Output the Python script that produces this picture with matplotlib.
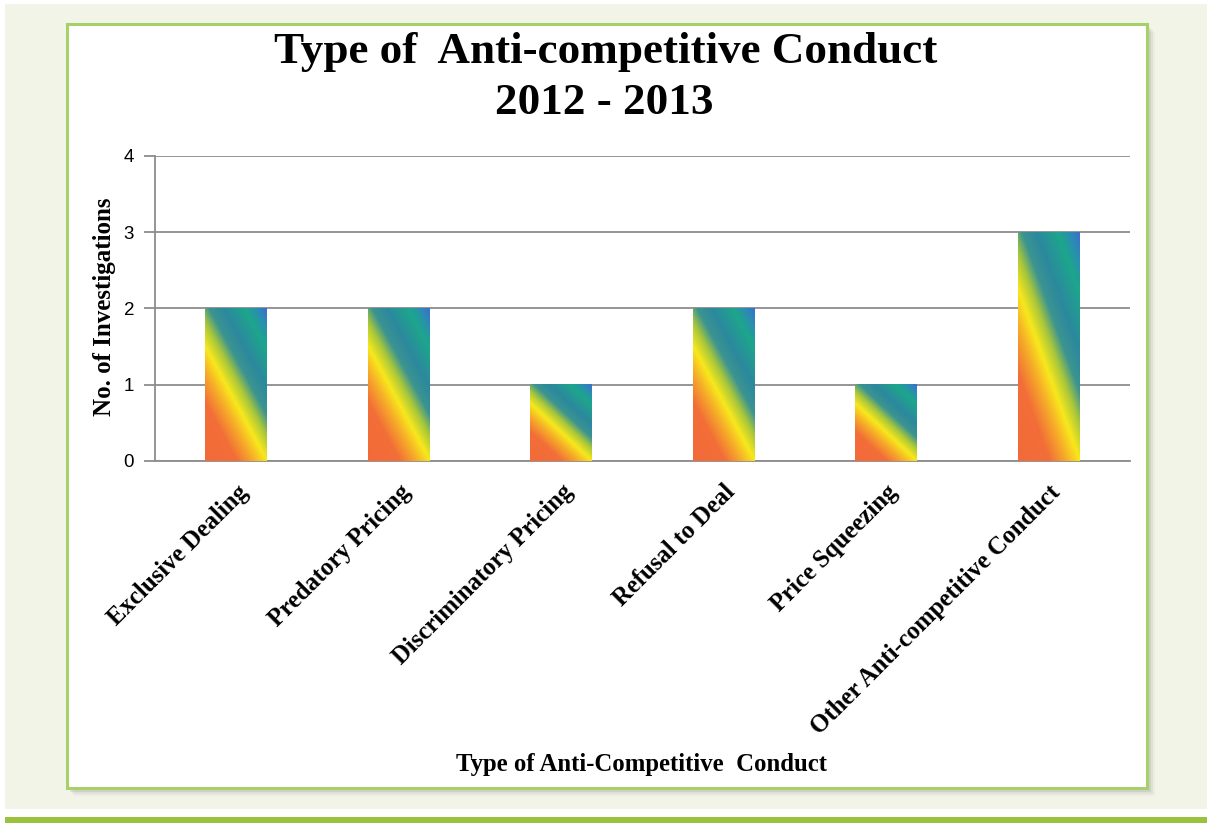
import numpy as np
import matplotlib
matplotlib.use("Agg")
import matplotlib.pyplot as plt
import matplotlib.transforms as mtransforms
from matplotlib.colors import LinearSegmentedColormap
from matplotlib.patches import Rectangle

categories = ["Exclusive Dealing", "Predatory Pricing", "Discriminatory Pricing",
              "Refusal to Deal", "Price Squeezing", "Other Anti-competitive Conduct"]
values = [2, 2, 1, 2, 1, 3]
yticks = [0, 1, 2, 3, 4]
title_line1 = "Type of  Anti-competitive Conduct"
title_line2 = "2012 - 2013"
xlabel = "Type of Anti-Competitive  Conduct"
ylabel = "No. of Investigations"

W, H = 1207, 823
fig = plt.figure(figsize=(W / 100, H / 100), dpi=100)
fig.patch.set_facecolor("white")

def frect(x0, y0, x1, y1, **kw):
    # pixel coords (top-left origin) -> figure coords
    r = Rectangle((x0 / W, 1 - y1 / H), (x1 - x0) / W, (y1 - y0) / H,
                  transform=fig.transFigure, **kw)
    fig.patches.append(r)

# page background
frect(5, 4, W, 809, facecolor="#F1F4E6", edgecolor="none", zorder=0)
frect(5, 817, W, H, facecolor="#9BC23C", edgecolor="none", zorder=0)
# shadow
for i, a in enumerate([0.10, 0.07, 0.04]):
    frect(70 + i * 2, 28 + i * 2, 1151 + i * 2, 792 + i * 2,
          facecolor=(0.3, 0.3, 0.3, a), edgecolor="none", zorder=0.5)
# panel
frect(67, 24, 1147, 788, facecolor="white", edgecolor="#A8D06A", linewidth=2.2, zorder=1)

ax = fig.add_axes([155 / W, 1 - 461 / H, (1130 - 155) / W, (461 - 156) / H])
ax.set_facecolor("none")
ax.set_zorder(2)

cmap = LinearSegmentedColormap.from_list("grad", [
    (0.00, "#F26A3A"), (0.22, "#F26E38"), (0.33, "#F6A82A"), (0.43, "#F8E81C"),
    (0.52, "#A9C73A"), (0.60, "#3C9490"), (0.70, "#2C889E"), (0.85, "#1DA68C"),
    (0.93, "#2A8EB0"), (1.00, "#3A6ED0")])

n = 200
u = np.linspace(0, 1, n)[None, :]
v = np.linspace(0, 1, n)[:, None]
grad = (0.75 * u + v) / 1.75

bw = 0.38
x = np.arange(len(categories))
for xi, val in zip(x, values):
    ax.imshow(grad, cmap=cmap, origin="lower", aspect="auto",
              extent=[xi - bw / 2, xi + bw / 2, 0, val], zorder=3, interpolation="bilinear")

ax.set_xlim(-0.5, len(categories) - 0.5)
ax.set_ylim(0, 4)
ax.set_yticks(yticks)
ax.set_yticklabels([str(t) for t in yticks], fontfamily="Liberation Sans", fontsize=13.5)
ax.yaxis.grid(True, color="#8C8C8C", linewidth=1.3, zorder=1)
ax.set_axisbelow(True)
for s in ["top", "right"]:
    ax.spines[s].set_visible(False)
ax.spines["left"].set_color("#8C8C8C")
ax.spines["bottom"].set_color("#8C8C8C")
ax.spines["left"].set_linewidth(1.3)
ax.spines["bottom"].set_linewidth(1.3)
ax.tick_params(axis="y", length=8, color="#8C8C8C", width=1.3, pad=7)
ax.tick_params(axis="x", length=0, pad=14)
ax.set_xticks(x)
ax.set_xticklabels(categories, rotation=45, ha="right", va="top",
                   rotation_mode="anchor", fontfamily="Liberation Serif",
                   fontweight="bold", fontsize=17.8)

fig.text(606 / W, 1 - 52 / H, title_line1, ha="center", va="center", fontfamily="Liberation Serif",
         fontweight="bold", fontsize=32.5)
fig.text(604 / W, 1 - 103 / H, title_line2, ha="center", va="center", fontfamily="Liberation Serif",
         fontweight="bold", fontsize=32.5)
fig.text(642 / W, 1 - 764 / H, xlabel, ha="center", va="center", fontfamily="Liberation Serif",
         fontweight="bold", fontsize=17.8)
fig.text(104 / W, 1 - 307 / H, ylabel, ha="center", va="center", rotation=90,
         fontfamily="Liberation Serif", fontweight="bold", fontsize=18)

fig.savefig("out.png", dpi=100)
